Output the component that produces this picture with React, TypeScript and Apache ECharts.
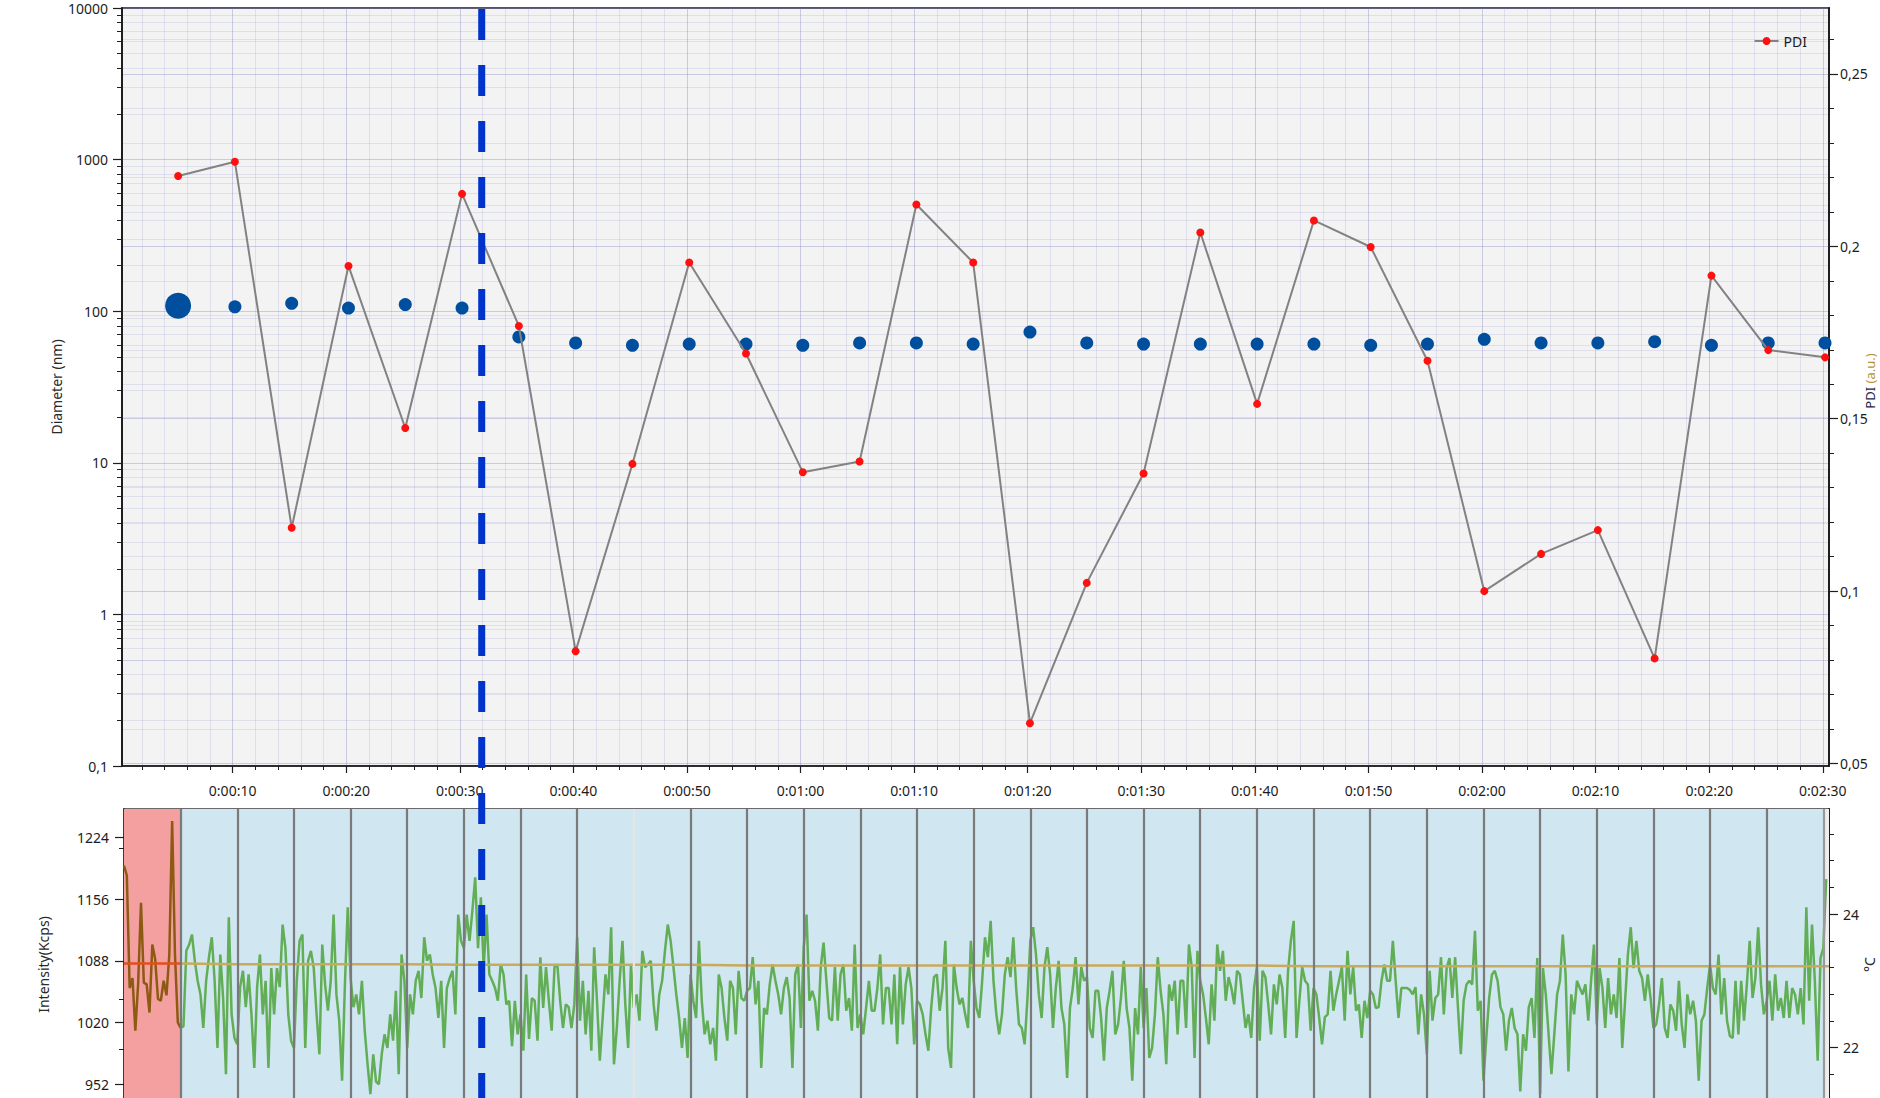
import React, { useEffect, useRef } from "react";
import * as echarts from "echarts";

// ---- Size measurement (one point per 5 s window) ----
const MEAS_TIMES = [
  5.2, 10.2, 15.2, 20.2, 25.2, 30.2, 35.2, 40.2, 45.2, 50.2, 55.2, 60.2, 65.2, 70.2, 75.2,
  80.2, 85.2, 90.2, 95.2, 100.2, 105.2, 110.2, 115.2, 120.2, 125.2, 130.2, 135.2, 140.2, 145.2, 150.2,
];
const DIAMETER_NM = [
  108.7, 106.8, 112.8, 104.8, 110.7, 104.8, 67.7, 61.8, 59.6, 60.7, 60.7, 59.6, 61.8, 61.8, 60.7,
  72.8, 61.8, 60.7, 60.7, 60.7, 60.7, 59.6, 60.7, 65.3, 61.8, 61.8, 62.9, 59.6, 61.8, 61.8,
];
const PDI_VALUES = [
  0.2204, 0.2245, 0.1184, 0.1943, 0.1473, 0.2152, 0.1769, 0.0826, 0.1369, 0.1953, 0.1689, 0.1345,
  0.1376, 0.2121, 0.1953, 0.0617, 0.1024, 0.1341, 0.204, 0.1543, 0.2075, 0.1998, 0.1668, 0.1,
  0.1108, 0.1177, 0.0805, 0.1915, 0.1699, 0.1678,
];

// ---- Count rate trace, sampled every INTENSITY_DT seconds from t = 0 ----
const INTENSITY_DT = 0.25;
const INTENSITY_KCPS = [
  1193, 1182, 1058, 1069, 1011, 1063, 1152, 1064, 1062, 1031, 1106, 1090, 1046, 1044, 1066, 1050, 1095, 1242, 1095, 1020,
  1014, 1016, 1099, 1106, 1117, 1088, 1066, 1051, 1014, 1066, 1092, 1114, 1066, 992, 1095, 1047, 963, 1136, 1029, 1003,
  996, 1059, 1077, 1037, 1073, 1029, 970, 1059, 1095, 1029, 1066, 970, 1080, 1029, 1080, 1059, 1128, 1102, 1029, 1000,
  992, 1066, 1110, 1117, 992, 1088, 1099, 1080, 1029, 985, 1106, 1062, 1033, 1066, 1139, 1051, 1022, 956, 1062, 1147,
  1069, 1037, 1051, 1029, 1066, 1011, 974, 941, 985, 955, 952, 985, 1007, 992, 1029, 1000, 1055, 963, 1095, 1066,
  992, 1051, 1029, 1066, 1077, 1047, 1114, 1088, 1095, 1073, 1058, 1025, 1066, 992, 1058, 1069, 1077, 1029, 1139, 1110,
  1102, 1139, 1110, 1143, 1180, 1102, 1158, 1080, 1139, 1073, 1066, 1058, 1044, 1084, 1073, 1040, 1044, 994, 1044, 1007,
  1029, 989, 1073, 1002, 1047, 1044, 1000, 1092, 1036, 1081, 1044, 1011, 1081, 1084, 1044, 1014, 1040, 1037, 1014, 1040,
  1114, 1022, 1066, 1007, 1055, 989, 1103, 1044, 978, 1025, 1073, 1051, 1125, 974, 1014, 1066, 1110, 1040, 992, 1084,
  1036, 1051, 1022, 1099, 1081, 1084, 1088, 1040, 1011, 1051, 1066, 1099, 1128, 1110, 1081, 1051, 1025, 992, 1025, 981,
  1073, 1044, 1025, 1110, 1044, 1007, 1022, 996, 1014, 978, 1073, 1058, 1025, 1000, 1066, 1058, 1007, 1077, 1047, 1044,
  1055, 1058, 1092, 1040, 1066, 970, 1036, 1029, 1062, 1084, 1066, 1051, 1029, 1058, 1070, 1047, 970, 1073, 1084, 1014,
  1103, 1139, 1044, 1055, 1044, 1011, 1081, 1108, 1066, 1025, 1022, 1081, 1022, 1073, 1084, 1033, 1047, 1011, 1106, 1014,
  1029, 1007, 1036, 1066, 1033, 1033, 1058, 1095, 1018, 1058, 1058, 1018, 1073, 996, 1081, 1018, 1062, 1081, 1058, 996,
  1044, 1040, 1029, 1007, 989, 1036, 1070, 1073, 1033, 1058, 1110, 992, 970, 1084, 1058, 1040, 1047, 1029, 1014, 1110,
  1066, 1036, 1025, 1066, 1114, 1092, 1132, 1066, 1029, 1007, 1029, 1073, 1092, 1070, 1114, 1058, 1018, 1014, 996, 1047,
  1110, 1125, 1095, 1051, 1025, 1081, 1103, 1073, 1014, 1058, 1088, 1036, 1018, 959, 1036, 1058, 1092, 1040, 1081, 1066,
  1070, 1014, 1003, 1055, 1055, 1025, 978, 1036, 1055, 1077, 1007, 1018, 1047, 1088, 1036, 1014, 956, 1036, 1007, 1081,
  1014, 1058, 981, 992, 1029, 1092, 1055, 1029, 974, 1062, 1044, 1066, 1007, 1066, 1066, 1014, 1106, 1081, 981, 1099,
  1066, 1051, 1025, 996, 1062, 1022, 1106, 1077, 1099, 1044, 1070, 1058, 1040, 1077, 1073, 1044, 1014, 1029, 1003, 1058,
  1081, 1000, 1077, 1070, 1040, 1007, 1062, 1040, 1073, 1058, 1003, 1077, 1110, 1132, 1003, 1044, 1081, 1066, 1062, 1011,
  1058, 1051, 1025, 996, 1026, 1029, 1077, 1033, 1051, 1066, 1081, 1022, 1099, 1051, 1081, 1033, 1040, 1003, 1044, 1025,
  1055, 1051, 1036, 1037, 1066, 1084, 1066, 1066, 1110, 1066, 1025, 1058, 1058, 1058, 1056, 1051, 1059, 1007, 1051, 1029,
  985, 1077, 1022, 1047, 1051, 1092, 1029, 1080, 1091, 1047, 1092, 1036, 985, 1044, 1062, 1066, 1062, 1121, 1033, 1044,
  956, 1003, 1047, 1073, 1077, 1066, 1037, 1029, 989, 1022, 1036, 1014, 1007, 944, 1007, 989, 1037, 1047, 1003, 1091,
  941, 1080, 1051, 1007, 963, 1007, 1051, 1066, 1117, 1073, 966, 1051, 1029, 1066, 1058, 1051, 1062, 1022, 1066, 1106,
  1018, 1080, 1058, 1014, 1069, 1029, 1051, 1025, 1091, 992, 1044, 1095, 1125, 1080, 1110, 1077, 1069, 1044, 1073, 1047,
  1014, 1018, 1040, 1069, 1014, 1003, 1040, 1033, 1011, 1066, 1018, 992, 1051, 1029, 1044, 1022, 956, 1022, 1029, 1058,
  1084, 1058, 1051, 1095, 1029, 1069, 1022, 1005, 1003, 1066, 1007, 1066, 1022, 1062, 1110, 1047, 1069, 1125, 1062, 1029,
  1044, 1066, 1022, 1073, 1033, 1047, 1025, 1066, 1025, 1058, 1051, 1029, 1058, 1018, 1147, 1044, 1128, 1066, 978, 1091, 1102, 1178,
];

// ---- Sample temperature ----
const TEMP_TIMES = [
  0, 5, 10, 15, 20, 25, 30, 35, 40, 45, 50, 55, 60, 65, 70, 75, 80, 85, 90, 95, 100, 105, 110, 115,
  120, 125, 130, 135, 140, 145, 150, 150.5,
];
const TEMP_C = [
  23.26, 23.26, 23.25, 23.25, 23.25, 23.25, 23.24, 23.24, 23.24, 23.24, 23.24, 23.23, 23.23, 23.23,
  23.23, 23.23, 23.23, 23.23, 23.23, 23.23, 23.23, 23.22, 23.22, 23.22, 23.22, 23.22, 23.22, 23.22,
  23.22, 23.22, 23.22, 23.22,
];

// ---- Window boundaries, tick labels, cursor ----
const WINDOW_EDGES = [
  5, 10, 15, 20, 25, 30, 35, 40, 45, 50, 55, 60, 65, 70, 75, 80, 85, 90, 95, 100, 105, 110, 115, 120,
  125, 130, 135, 140, 145, 150,
];
const EXCLUDED_WINDOW = [0, 5];
const HIGHLIGHT_EDGE = 45;
const TIME_TICKS = [10, 20, 30, 40, 50, 60, 70, 80, 90, 100, 110, 120, 130, 140, 150];
const PDI_TICKS = [0.05, 0.1, 0.15, 0.2, 0.25];
const INTENSITY_TICKS = [952, 1020, 1088, 1156, 1224];
const INTENSITY_MINOR_TICKS = [991, 1046, 1212];
const TEMP_LABEL_TICKS = [22, 24];
const TEMP_MINOR_TICKS = [21.2, 21.6, 22, 22.4, 22.8, 23.2, 23.6, 24, 24.4, 24.8, 25.2];
const CURSOR_TIME = 31.93;

const FONT = "'Noto Sans', 'Open Sans', sans-serif";
const TEXT = "#1c1c1c";
const AXIS = "#1e1e1e";

const fmtTime = (v: number) => {
  const s = Math.round(v);
  const h = Math.floor(s / 3600);
  const m = Math.floor((s % 3600) / 60);
  const sec = s % 60;
  return `${h}:${String(m).padStart(2, "0")}:${String(sec).padStart(2, "0")}`;
};
const fmtComma = (v: number) => String(+v.toFixed(4)).replace(".", ",");
const fmtPlain = (v: number) => String(Math.round(v));

// minor tick positions between labelled ticks
const minorTimeTicks: number[] = [];
for (let s = 2; s <= 150; s += 2) if (s % 10 !== 0) minorTimeTicks.push(s);
const logMinorTicks: number[] = [];
for (let d = -1; d < 4; d++) for (let k = 2; k <= 9; k++) logMinorTicks.push(d + Math.log10(k));
const pdiMinorTicks: number[] = [];
for (let i = 6; i <= 26; i++) if (i % 5 !== 0) pdiMinorTicks.push(i / 100);

const TOP_GRID = { left: 122, top: 8, width: 1707, height: 758 };
const BOTTOM_GRID = { left: 124, top: 809, width: 1705, bottom: -22 };

function buildOption(): echarts.EChartsOption {
  const gridMajor = "rgba(120,120,200,0.34)";
  const gridMinor = "rgba(120,120,200,0.17)";
  const lowerGrid = "rgba(100,115,210,0.26)";
  const noLine = { show: false, onZero: false };

  const intensityPts = INTENSITY_KCPS.map((v, i) => [i * INTENSITY_DT, v]);
  const cut = Math.round(EXCLUDED_WINDOW[1] / INTENSITY_DT);
  const tempPts = TEMP_TIMES.map((t, i) => [t, TEMP_C[i]]);
  const tempCut = TEMP_TIMES.indexOf(EXCLUDED_WINDOW[1]);

  return {
    animation: false,
    textStyle: { fontFamily: FONT },
    grid: [
      {
        ...TOP_GRID,
        show: true,
        backgroundColor: "#f3f3f3",
        borderColor: AXIS,
        borderWidth: 1.5,
        outerBoundsMode: "none",
      } as any,
      {
        ...BOTTOM_GRID,
        show: true,
        backgroundColor: "transparent",
        borderColor: "#3a3a3a",
        borderWidth: 1.5,
        outerBoundsMode: "none",
      } as any,
    ],
    legend: {
      data: ["PDI"],
      right: 68,
      top: 29,
      itemWidth: 24,
      itemHeight: 10,
      itemGap: 10,
      textStyle: { fontSize: 14, color: TEXT, fontFamily: FONT },
    },
    xAxis: [
      {
        gridIndex: 0,
        type: "value",
        position: "bottom",
        min: 0.26,
        max: 150.55,
        axisLine: { show: true, onZero: false, lineStyle: { color: AXIS, width: 1.5 } },
        axisTick: { show: true, customValues: TIME_TICKS, length: 7, lineStyle: { color: AXIS, width: 1.2 } },
        axisLabel: {
          customValues: TIME_TICKS,
          formatter: (v: number) => fmtTime(v),
          fontSize: 14,
          color: TEXT,
          margin: 17,
          fontFamily: FONT,
        },
        splitLine: { show: true, lineStyle: { color: gridMajor, width: 1 } },
      } as any,
      {
        gridIndex: 0,
        type: "value",
        position: "bottom",
        min: 0.26,
        max: 150.55,
        axisLine: noLine,
        axisTick: { show: true, customValues: minorTimeTicks, length: 4, lineStyle: { color: AXIS, width: 1 } },
        axisLabel: { show: false },
        splitLine: { show: true, lineStyle: { color: gridMinor, width: 1 } },
      } as any,
      {
        gridIndex: 1,
        type: "value",
        position: "bottom",
        min: 0,
        max: 150.5,
        interval: 2,
        axisLine: noLine,
        axisTick: { show: false },
        axisLabel: { show: false },
        splitLine: { show: true, lineStyle: { color: lowerGrid, width: 1 } },
      },
    ],
    yAxis: [
      {
        gridIndex: 0,
        type: "log",
        logBase: 10,
        position: "left",
        min: 0.1,
        max: 10000,
        name: "Diameter (nm)",
        nameLocation: "middle",
        nameGap: 59,
        nameMoveOverlap: false,
        nameTextStyle: { fontSize: 14, color: "#2a2a2a", fontFamily: FONT },
        axisLine: { show: true, onZero: false, lineStyle: { color: AXIS, width: 2 } },
        axisTick: { show: true, length: 9, lineStyle: { color: AXIS, width: 1.2 } },
        axisLabel: { fontSize: 14, color: TEXT, margin: 14, formatter: (v: number) => fmtComma(v), fontFamily: FONT },
        splitLine: { show: true, lineStyle: { color: gridMajor, width: 1 } },
      } as any,
      {
        gridIndex: 0,
        type: "value",
        position: "left",
        min: -1,
        max: 4,
        axisLine: noLine,
        axisTick: { show: true, customValues: logMinorTicks, length: 5, lineStyle: { color: AXIS, width: 1 } },
        axisLabel: { show: false },
        splitLine: { show: true, lineStyle: { color: gridMinor, width: 1 } },
      } as any,
      {
        gridIndex: 0,
        type: "value",
        position: "right",
        min: 0.0493,
        max: 0.2691,
        name: "{a|PDI }{b|(a.u.)}",
        nameLocation: "middle",
        nameGap: 34,
        nameMoveOverlap: false,
        nameTextStyle: {
          fontSize: 13,
          fontFamily: FONT,
          padding: [0, 0, 0, 12],
          rich: {
            a: { fontSize: 13, color: "#2a2648", fontFamily: FONT },
            b: { fontSize: 13, color: "#b8913a", fontFamily: FONT },
          },
        },
        axisLine: { show: true, onZero: false, lineStyle: { color: AXIS, width: 2 } },
        axisTick: { show: true, customValues: PDI_TICKS, length: 9, lineStyle: { color: AXIS, width: 1.2 } },
        axisLabel: {
          customValues: PDI_TICKS,
          formatter: (v: number) => fmtComma(v),
          fontSize: 14,
          color: TEXT,
          margin: 11,
          fontFamily: FONT,
        },
        splitLine: { show: true, lineStyle: { color: gridMajor, width: 1 } },
      } as any,
      {
        gridIndex: 0,
        type: "value",
        position: "right",
        min: 0.0493,
        max: 0.2691,
        axisLine: noLine,
        axisTick: { show: true, customValues: pdiMinorTicks, length: 5, lineStyle: { color: AXIS, width: 1 } },
        axisLabel: { show: false },
        splitLine: { show: true, lineStyle: { color: gridMinor, width: 1 } },
      } as any,
      {
        gridIndex: 1,
        type: "value",
        position: "left",
        min: 912.6,
        max: 1255.3,
        name: "Intensity(Kcps)",
        nameLocation: "middle",
        nameGap: 74,
        nameMoveOverlap: false,
        nameTextStyle: { fontSize: 14, color: "#2a2a2a", fontFamily: FONT },
        axisLine: { show: true, onZero: false, lineStyle: { color: "#3a3a3a", width: 2 } },
        axisTick: { show: true, customValues: INTENSITY_TICKS, length: 9, lineStyle: { color: AXIS, width: 1.2 } },
        axisLabel: {
          customValues: INTENSITY_TICKS,
          formatter: (v: number) => fmtPlain(v),
          fontSize: 14,
          color: TEXT,
          margin: 15,
          fontFamily: FONT,
        },
        splitLine: { show: true, lineStyle: { color: lowerGrid, width: 1 } },
      } as any,
      {
        gridIndex: 1,
        type: "value",
        position: "left",
        min: 912.6,
        max: 1255.3,
        axisLine: noLine,
        axisTick: { show: true, customValues: INTENSITY_MINOR_TICKS, length: 5, lineStyle: { color: AXIS, width: 1 } },
        axisLabel: { show: false },
        splitLine: { show: false },
      } as any,
      {
        gridIndex: 1,
        type: "value",
        position: "right",
        min: 20.915,
        max: 25.575,
        name: "°C",
        nameLocation: "middle",
        nameGap: 33,
        nameMoveOverlap: false,
        nameTextStyle: { fontSize: 14, color: "#2a2a2a", fontFamily: FONT },
        axisLine: { show: true, onZero: false, lineStyle: { color: AXIS, width: 2 } },
        axisTick: { show: true, customValues: TEMP_LABEL_TICKS, length: 9, lineStyle: { color: AXIS, width: 1.2 } },
        axisLabel: {
          customValues: TEMP_LABEL_TICKS,
          formatter: (v: number) => fmtPlain(v),
          fontSize: 14,
          color: TEXT,
          margin: 14,
          fontFamily: FONT,
        },
        splitLine: { show: false },
      } as any,
      {
        gridIndex: 1,
        type: "value",
        position: "right",
        min: 20.915,
        max: 25.575,
        axisLine: noLine,
        axisTick: { show: true, customValues: TEMP_MINOR_TICKS, length: 5, lineStyle: { color: AXIS, width: 1 } },
        axisLabel: { show: false },
        splitLine: { show: true, lineStyle: { color: lowerGrid, width: 1 } },
      } as any,
    ],
    series: [
      {
        name: "Diameter",
        type: "scatter",
        xAxisIndex: 0,
        yAxisIndex: 0,
        symbol: "circle",
        symbolSize: 13,
        itemStyle: { color: "#004f9e", opacity: 1 },
        data: MEAS_TIMES.map((t, i) =>
          i === 0 ? { value: [t, DIAMETER_NM[i]], symbolSize: 26 } : [t, DIAMETER_NM[i]]
        ),
        z: 3,
      },
      {
        name: "PDI",
        type: "line",
        xAxisIndex: 0,
        yAxisIndex: 2,
        symbol: "circle",
        symbolSize: 8,
        showSymbol: true,
        lineStyle: { color: "#828282", width: 2 },
        itemStyle: { color: "#ff1010", borderWidth: 0 },
        data: MEAS_TIMES.map((t, i) => [t, PDI_VALUES[i]]),
        z: 4,
      },
      {
        name: "Window background",
        type: "line",
        xAxisIndex: 2,
        yAxisIndex: 4,
        data: [],
        z: -1,
        silent: true,
        markArea: {
          silent: true,
          data: [
            [{ xAxis: EXCLUDED_WINDOW[0], itemStyle: { color: "#f5a0a0" } }, { xAxis: EXCLUDED_WINDOW[1] }],
            [{ xAxis: EXCLUDED_WINDOW[1], itemStyle: { color: "#d0e6f1" } }, { xAxis: WINDOW_EDGES[WINDOW_EDGES.length - 1] }],
            [{ xAxis: WINDOW_EDGES[WINDOW_EDGES.length - 1], itemStyle: { color: "#eeeeee" } }, { xAxis: 150.5 }],
          ],
        },
      } as any,
      {
        name: "Window edges",
        type: "line",
        xAxisIndex: 2,
        yAxisIndex: 4,
        data: [],
        z: 1,
        silent: true,
        markLine: {
          silent: true,
          symbol: "none",
          label: { show: false },
          data: WINDOW_EDGES.map((x) => ({
            xAxis: x,
            lineStyle: {
              color: x === HIGHLIGHT_EDGE ? "#e6e6e6" : x === 150 ? "#9a9a9a" : "#7a7a7a",
              width: 2.2,
              type: "solid",
            },
          })),
        },
      } as any,
      {
        name: "Intensity (excluded)",
        type: "line",
        xAxisIndex: 2,
        yAxisIndex: 4,
        symbol: "none",
        lineStyle: { color: "#8d5a14", width: 2.5 },
        data: intensityPts.slice(0, cut + 1),
        z: 3,
      },
      {
        name: "Intensity",
        type: "line",
        xAxisIndex: 2,
        yAxisIndex: 4,
        symbol: "none",
        lineStyle: { color: "#62ae56", width: 2.5 },
        data: intensityPts.slice(cut),
        z: 3,
      },
      {
        name: "Temperature (excluded)",
        type: "line",
        xAxisIndex: 2,
        yAxisIndex: 6,
        symbol: "none",
        lineStyle: { color: "#e0501c", width: 2.5 },
        data: tempPts.slice(0, tempCut + 1),
        z: 4,
      },
      {
        name: "Temperature",
        type: "line",
        xAxisIndex: 2,
        yAxisIndex: 6,
        symbol: "none",
        lineStyle: { color: "#c9aa5a", width: 2.5 },
        data: tempPts.slice(tempCut),
        z: 4,
      },
    ],
  } as any;
}

export default function App() {
  const ref = useRef<HTMLDivElement>(null);

  useEffect(() => {
    if (!ref.current) return;
    const chart = echarts.init(ref.current, undefined, { renderer: "svg" });
    chart.setOption(buildOption());

    // cursor marker spanning both panels, placed through the time axis
    const cx = chart.convertToPixel({ xAxisIndex: 0 }, CURSOR_TIME) as number;
    chart.setOption({
      graphic: [
        {
          type: "line",
          z: 100,
          silent: true,
          shape: { x1: cx, y1: TOP_GRID.top + 1, x2: cx, y2: 1098 },
          style: { stroke: "#0033cc", lineWidth: 7, lineDash: [31, 25] },
        },
      ],
    });

    return () => chart.dispose();
  }, []);

  return (
    <div
      ref={ref}
      style={{ position: "fixed", left: 0, top: 0, width: 1880, height: 1098, background: "#ffffff" }}
    />
  );
}
